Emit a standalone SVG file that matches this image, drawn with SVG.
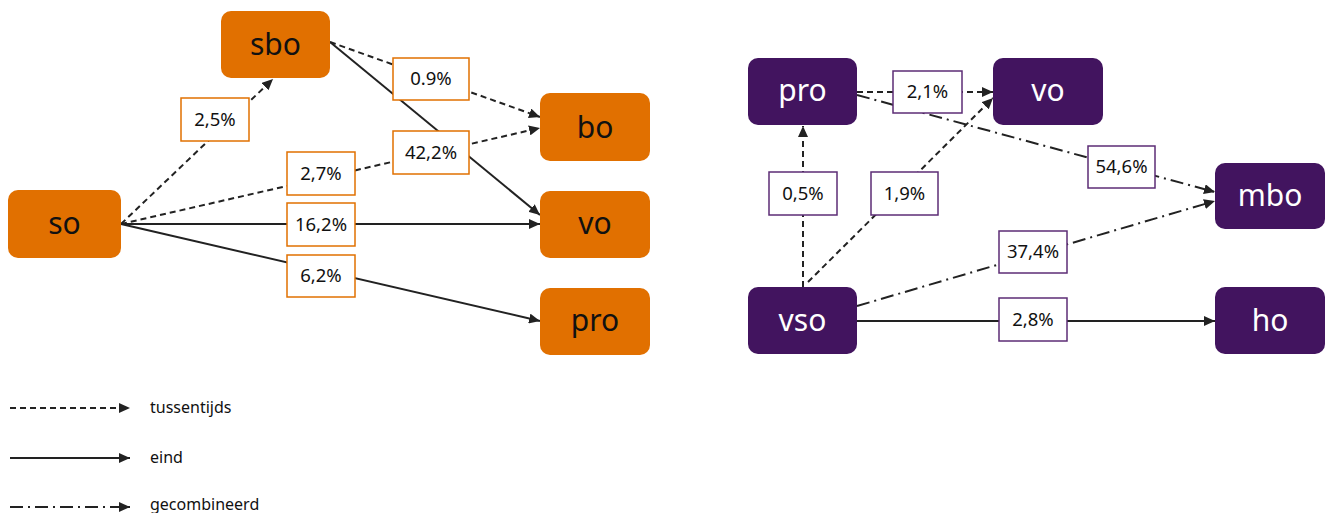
<svg xmlns="http://www.w3.org/2000/svg" width="1325" height="513" viewBox="0 0 1325 513">
<style>
.bg{fill:#ffffff}
.no{fill:#E17000}
.np{fill:#42145F}
.tn{font-family:"Noto Sans","Open Sans",sans-serif;font-size:30px;text-anchor:middle}
.tno{fill:#111111}
.tnp{fill:#ffffff}
.lo{fill:#ffffff;stroke:#E17000;stroke-width:1.5}
.lp{fill:#ffffff;stroke:#5C2D76;stroke-width:1.5}
.tl{font-family:"Noto Sans","Open Sans",sans-serif;font-size:18.5px;fill:#111111;text-anchor:middle}
.tg{font-family:"Noto Sans","Open Sans",sans-serif;font-size:16px;fill:#111111}
.e{fill:none;stroke:#222222;stroke-width:2;marker-end:url(#ah)}
.dash{stroke-dasharray:6 4}
.solid{}
.dd{stroke-dasharray:13 5 2 5}
</style>
<defs>
<marker id="ah" markerUnits="userSpaceOnUse" markerWidth="12" markerHeight="10" refX="11" refY="5" orient="auto">
<path d="M0,0 L11,5 L0,10 z" fill="#222222"/>
</marker>
</defs>
<rect class="bg" x="0" y="0" width="1325" height="513"/>
<g id="connectors">
<path class="e dash" d="M121,224 L273,79"/>
<path class="e dash" d="M121,224 L540,128"/>
<path class="e dash" d="M330,42 L540,117"/>
<path class="e solid" d="M330,42 L540,215"/>
<path class="e solid" d="M121,224 L540,224"/>
<path class="e solid" d="M121,224 L540,321"/>
<path class="e dash" d="M857,92 L993,92"/>
<path class="e dd" d="M857,95 L1215,192"/>
<path class="e dash" d="M803,287 L803,126"/>
<path class="e dash" d="M808,282 L993,98"/>
<path class="e dd" d="M857,306 L1215,201"/>
<path class="e solid" d="M857,321 L1215,321"/>
</g>
<g id="node-sbo"><rect class="no" x="221" y="11" width="109" height="67" rx="10"/><text class="tn tno" x="275.5" y="55">sbo</text></g>
<g id="node-so"><rect class="no" x="8" y="190" width="113" height="68" rx="10"/><text class="tn tno" x="64.5" y="234">so</text></g>
<g id="node-bo"><rect class="no" x="540" y="93" width="110" height="68" rx="10"/><text class="tn tno" x="595" y="138">bo</text></g>
<g id="node-vo-left"><rect class="no" x="540" y="191" width="110" height="67" rx="10"/><text class="tn tno" x="595" y="234">vo</text></g>
<g id="node-pro-left"><rect class="no" x="540" y="288" width="110" height="67" rx="10"/><text class="tn tno" x="595" y="331">pro</text></g>
<g id="node-pro-right"><rect class="np" x="748" y="58" width="109" height="67" rx="10"/><text class="tn tnp" x="802.5" y="101">pro</text></g>
<g id="node-vo-right"><rect class="np" x="993" y="58" width="110" height="67" rx="10"/><text class="tn tnp" x="1048" y="101">vo</text></g>
<g id="node-mbo"><rect class="np" x="1215" y="163" width="110" height="66" rx="10"/><text class="tn tnp" x="1270" y="206">mbo</text></g>
<g id="node-vso"><rect class="np" x="748" y="287" width="109" height="67" rx="10"/><text class="tn tnp" x="802.5" y="331">vso</text></g>
<g id="node-ho"><rect class="np" x="1215" y="287" width="110" height="67" rx="10"/><text class="tn tnp" x="1270" y="331">ho</text></g>
<g id="labels">
<g id="label-2-5"><rect class="lo" x="181" y="98" width="68" height="43"/><text class="tl" x="215" y="126">2,5%</text></g>
<g id="label-0-9"><rect class="lo" x="393" y="58" width="76" height="42"/><text class="tl" x="431" y="85">0.9%</text></g>
<g id="label-42-2"><rect class="lo" x="393" y="131" width="76" height="43"/><text class="tl" x="431" y="159">42,2%</text></g>
<g id="label-2-7"><rect class="lo" x="287" y="152" width="68" height="43"/><text class="tl" x="321" y="180">2,7%</text></g>
<g id="label-16-2"><rect class="lo" x="287" y="203" width="68" height="43"/><text class="tl" x="321" y="231">16,2%</text></g>
<g id="label-6-2"><rect class="lo" x="287" y="255" width="68" height="42"/><text class="tl" x="321" y="282">6,2%</text></g>
<g id="label-2-1"><rect class="lp" x="893" y="71" width="69" height="42"/><text class="tl" x="927.5" y="98">2,1%</text></g>
<g id="label-0-5"><rect class="lp" x="769" y="172" width="68" height="43"/><text class="tl" x="803" y="200">0,5%</text></g>
<g id="label-1-9"><rect class="lp" x="871" y="172" width="67" height="43"/><text class="tl" x="904.5" y="200">1,9%</text></g>
<g id="label-54-6"><rect class="lp" x="1088" y="146" width="67" height="42"/><text class="tl" x="1121.5" y="173">54,6%</text></g>
<g id="label-37-4"><rect class="lp" x="999" y="231" width="68" height="42"/><text class="tl" x="1033" y="258">37,4%</text></g>
<g id="label-2-8"><rect class="lp" x="999" y="298" width="68" height="43"/><text class="tl" x="1033" y="326">2,8%</text></g>
</g>
<g id="legend">
<path class="e dash" d="M10,408 L130,408"/>
<text class="tg" x="150" y="413">tussentijds</text>
<path class="e solid" d="M10,458 L130,458"/>
<text class="tg" x="150" y="463">eind</text>
<path class="e dd" d="M10,507 L130,507"/>
<text class="tg" x="150" y="510">gecombineerd</text>
</g>
</svg>
